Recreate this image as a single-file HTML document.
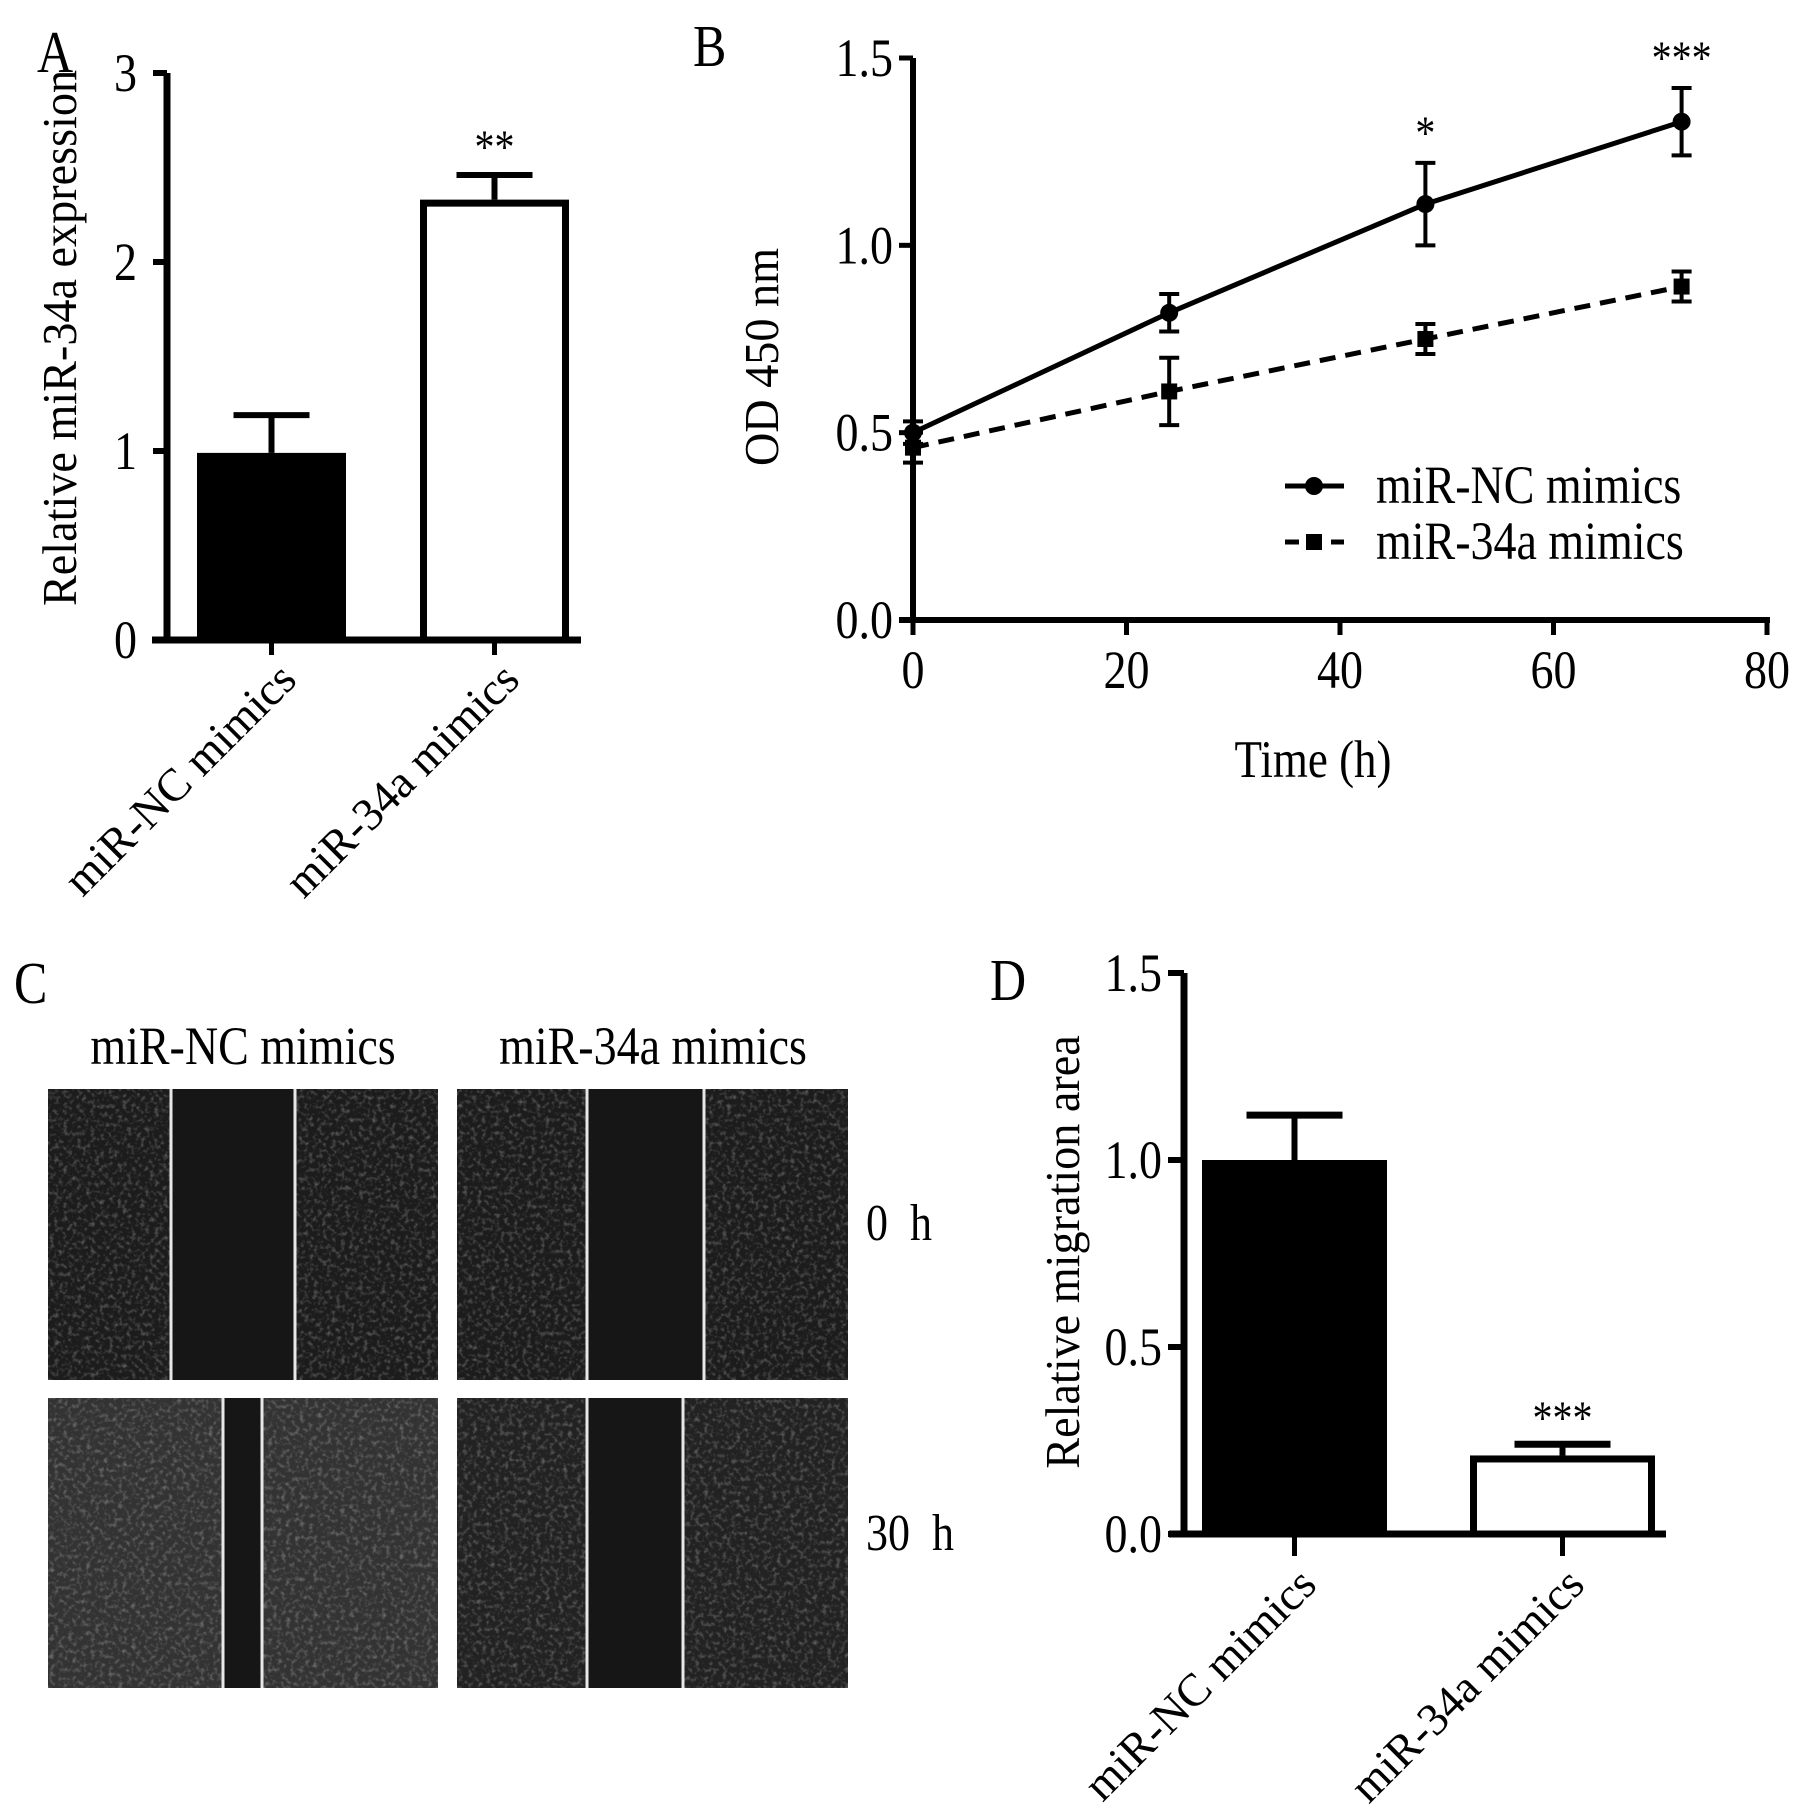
<!DOCTYPE html>
<html><head><meta charset="utf-8"><style>
html,body{margin:0;padding:0;background:#fff;}
svg{display:block;font-family:"Liberation Serif","Times New Roman",serif;}
text{white-space:pre;}
</style></head><body>
<svg id="fig" width="1795" height="1819" viewBox="0 0 1795 1819" xmlns="http://www.w3.org/2000/svg">
<defs>
<filter id="cells" x="0" y="0" width="100%" height="100%">
<feTurbulence type="fractalNoise" baseFrequency="0.22" numOctaves="2" seed="3" result="n"/>
<feColorMatrix type="matrix" values="0 0 0 0 1  0 0 0 0 1  0 0 0 0 1  0 0 0 2.2 -1.05"/>
</filter>
</defs>
<g id="panelA"></g>
<g id="panelB"></g>
<g id="panelC"></g>
<g id="panelD"></g>
</svg>
<script>
// ---- Panel A data ----
const aCategories = ["miR-NC mimics", "miR-34a mimics"];
const aValues = [0.99, 2.33];
const aErrors = [0.20, 0.13];
const aTicks = [0, 1, 2, 3];
const aSig = ["", "**"];
// ---- Panel B data ----
const bTimes = [0, 24, 48, 72];
const bNC = [0.50, 0.82, 1.11, 1.33];
const bNCerr = [0.03, 0.05, 0.11, 0.09];
const b34 = [0.46, 0.61, 0.75, 0.89];
const b34err = [0.04, 0.09, 0.04, 0.04];
const bXTicks = [0, 20, 40, 60, 80];
const bYTicks = ["0.0", "0.5", "1.0", "1.5"];
const bSig = ["", "", "*", "***"];
// ---- Panel D data ----
const dCategories = ["miR-NC mimics", "miR-34a mimics"];
const dValues = [1.00, 0.21];
const dErrors = [0.12, 0.03];
const dTicks = ["0.0", "0.5", "1.0", "1.5"];
const dSig = ["", "***"];

const NS = "http://www.w3.org/2000/svg";
const SY = 1.18;
const SV = 1.05;
function mk(parent, tag, attrs, txt) {
  const e = document.createElementNS(NS, tag);
  for (const k in attrs) e.setAttribute(k, attrs[k]);
  if (txt !== undefined) e.textContent = txt;
  parent.appendChild(e);
  return e;
}
function htext(parent, x, y, size, anchor, str) {
  return mk(parent, 'text', { x: 0, y: 0, 'font-size': size, 'text-anchor': anchor, transform: `translate(${x},${y}) scale(1,${SY})` }, str);
}
function vtext(parent, x, y, size, str) {
  return mk(parent, 'text', { x: 0, y: 0, 'font-size': size, 'text-anchor': 'middle', transform: `translate(${x},${y}) rotate(-90) scale(${SV},1.1)` }, str);
}

// ================= Panel A =================
(function () {
  const g = document.getElementById('panelA');
  const x0 = 167, y0 = 640, yTop = 73, xEnd = 581;
  const ys = v => y0 - (v / 3) * (y0 - yTop);
  const barL = [197, 420], barW = 149;
  let t = htext(g, 37, 72, 50, 'start', 'A');
   
  t = vtext(g, 76, 338, 44, 'Relative miR-34a expression');
   
  aCategories.forEach((c, i) => {
    const cx = barL[i] + barW / 2;
    const ey = ys(aValues[i] + aErrors[i]);
    let l = mk(g, 'line', { x1: cx, x2: cx, y1: ys(aValues[i]), y2: ey, stroke: '#000', 'stroke-width': 6 });
     
    l = mk(g, 'line', { x1: cx - 38, x2: cx + 38, y1: ey, y2: ey, stroke: '#000', 'stroke-width': 6 });
     
    const r = mk(g, 'rect', { x: barL[i] + 3.5, y: ys(aValues[i]) + 3.5, width: barW - 7, height: y0 - ys(aValues[i]) - 3.5, fill: i === 0 ? '#000' : '#fff', stroke: '#000', 'stroke-width': 7 });
     
    if (aSig[i]) {
      const s = htext(g, cx, ey - 12, 40, 'middle', aSig[i]);
       
    }
    const tick = mk(g, 'line', { x1: cx, x2: cx, y1: y0, y2: y0 + 15, stroke: '#000', 'stroke-width': 5 });
     
    const lab = mk(g, 'text', { x: 0, y: 0, 'font-size': 46, 'text-anchor': 'end', transform: `translate(${cx + 27},${y0 + 42}) rotate(-45)` }, c);
     
  });
  let ax = mk(g, 'line', { x1: x0, x2: x0, y1: yTop, y2: y0 + 3, stroke: '#000', 'stroke-width': 7 });
   
  ax = mk(g, 'line', { x1: x0 - 15, x2: xEnd, y1: y0, y2: y0, stroke: '#000', 'stroke-width': 7 });
   
  aTicks.forEach(v => {
    const y = ys(v);
    const tk = mk(g, 'line', { x1: x0 - 14, x2: x0, y1: y, y2: y, stroke: '#000', 'stroke-width': 6 });
     
    const tl = htext(g, x0 - 30, y + 18, 46, 'end', String(v));
     
  });
})();

// ================= Panel B =================
(function () {
  const g = document.getElementById('panelB');
  const x0 = 913, y0 = 620, yTop = 58, x80 = 1767;
  const xs = v => x0 + (v / 80) * (x80 - x0);
  const ys = v => y0 - (v / 1.5) * (y0 - yTop);
  let t = htext(g, 693, 66, 50, 'start', 'B');
   
  t = vtext(g, 778, 357, 44, 'OD 450 nm');
   
  t = htext(g, 1313, 777, 45, 'middle', 'Time (h)');
   
  let ax = mk(g, 'line', { x1: x0, x2: x0, y1: yTop, y2: y0 + 3, stroke: '#000', 'stroke-width': 6 });
   
  ax = mk(g, 'line', { x1: x0 - 14, x2: x80 + 3, y1: y0, y2: y0, stroke: '#000', 'stroke-width': 6 });
   
  bYTicks.forEach(s => {
    const y = ys(parseFloat(s));
    const tk = mk(g, 'line', { x1: x0 - 14, x2: x0, y1: y, y2: y, stroke: '#000', 'stroke-width': 5 });
     
    const tl = htext(g, x0 - 20, y + 18, 46, 'end', s);
     
  });
  bXTicks.forEach(v => {
    const x = xs(v);
    const tk = mk(g, 'line', { x1: x, x2: x, y1: y0, y2: y0 + 15, stroke: '#000', 'stroke-width': 5 });
     
    const tl = htext(g, x, y0 + 68, 46, 'middle', String(v));
     
  });
  function series(vals, errs, dashed, sq, name) {
    const pts = bTimes.map((tt, i) => xs(tt) + ',' + ys(vals[i])).join(' ');
    const pl = mk(g, 'polyline', { points: pts, fill: 'none', stroke: '#000', 'stroke-width': 5, 'stroke-dasharray': dashed ? '16 10' : 'none' });
     
    bTimes.forEach((tt, i) => {
      const x = xs(tt), y1 = ys(vals[i] + errs[i]), y2 = ys(vals[i] - errs[i]);
      const e = mk(g, 'path', { d: `M${x},${y1}V${y2}M${x - 10},${y1}H${x + 10}M${x - 10},${y2}H${x + 10}`, stroke: '#000', 'stroke-width': 4, fill: 'none' });
       
      let m;
      if (sq) m = mk(g, 'rect', { x: x - 8, y: ys(vals[i]) - 8, width: 16, height: 16, fill: '#000' });
      else m = mk(g, 'circle', { cx: x, cy: ys(vals[i]), r: 9, fill: '#000' });
       
    });
  }
  series(bNC, bNCerr, false, false, 'nc');
  series(b34, b34err, true, true, 'mir34a');
  bTimes.forEach((tt, i) => {
    if (!bSig[i]) return;
    const s = htext(g, xs(tt), ys(bNC[i] + bNCerr[i]) - 14, 40, 'middle', bSig[i]);
     
  });
  const lg = mk(g, 'g', {});
   
  let l = mk(lg, 'line', { x1: 1285, x2: 1344, y1: 486, y2: 486, stroke: '#000', 'stroke-width': 5 });
   
  l = mk(lg, 'circle', { cx: 1314, cy: 486, r: 9, fill: '#000' });
   
  l = htext(lg, 1376, 503, 46, 'start', 'miR-NC mimics');
   
  l = mk(lg, 'line', { x1: 1285, x2: 1344, y1: 542, y2: 542, stroke: '#000', 'stroke-width': 5, 'stroke-dasharray': '14 9' });
   
  l = mk(lg, 'rect', { x: 1306, y: 534, width: 16, height: 16, fill: '#000' });
   
  l = htext(lg, 1376, 559, 46, 'start', 'miR-34a mimics');
   
})();

// ================= Panel C =================
(function () {
  const g = document.getElementById('panelC');
  let t = htext(g, 14, 1003, 50, 'start', 'C');
   
  t = htext(g, 243, 1064, 46, 'middle', 'miR-NC mimics');
   
  t = htext(g, 653, 1064, 46, 'middle', 'miR-34a mimics');
   
  t = htext(g, 866, 1240, 44, 'start', '0  h');
   
  t = htext(g, 866, 1550, 44, 'start', '30  h');
   
  const imgs = [
    { x: 48, y: 1089, w: 390, h: 291, l1: 171, l2: 295, bg: '#1c1c1c', name: 'image-nc-0h' },
    { x: 457, y: 1089, w: 391, h: 291, l1: 587, l2: 704, bg: '#1c1c1c', name: 'image-34a-0h' },
    { x: 48, y: 1398, w: 390, h: 290, l1: 223, l2: 262, bg: '#333333', name: 'image-nc-30h' },
    { x: 457, y: 1398, w: 391, h: 290, l1: 587, l2: 683, bg: '#222222', name: 'image-34a-30h' }
  ];
  imgs.forEach(im => {
    const gg = mk(g, 'g', {});
     
    mk(gg, 'rect', { x: im.x, y: im.y, width: im.w, height: im.h, fill: im.bg });
    mk(gg, 'rect', { x: im.x, y: im.y, width: im.w, height: im.h, fill: '#fff', filter: 'url(#cells)', opacity: 0.3 });
    mk(gg, 'rect', { x: im.l1, y: im.y, width: im.l2 - im.l1, height: im.h, fill: '#161616' });
    mk(gg, 'line', { x1: im.l1, x2: im.l1, y1: im.y, y2: im.y + im.h, stroke: '#e8e8e8', 'stroke-width': 3 });
    mk(gg, 'line', { x1: im.l2, x2: im.l2, y1: im.y, y2: im.y + im.h, stroke: '#e8e8e8', 'stroke-width': 3 });
  });
})();

// ================= Panel D =================
(function () {
  const g = document.getElementById('panelD');
  const x0 = 1184, y0 = 1534, yTop = 973, xEnd = 1666;
  const ys = v => y0 - (v / 1.5) * (y0 - yTop);
  const barL = [1202, 1470], barW = 185;
  let t = htext(g, 990, 1000, 50, 'start', 'D');
   
  t = vtext(g, 1079, 1252, 44, 'Relative migration area');
   
  dCategories.forEach((c, i) => {
    const cx = barL[i] + barW / 2;
    const ey = ys(dValues[i] + dErrors[i]);
    let l = mk(g, 'line', { x1: cx, x2: cx, y1: ys(dValues[i]), y2: ey, stroke: '#000', 'stroke-width': 6 });
     
    l = mk(g, 'line', { x1: cx - 48, x2: cx + 48, y1: ey, y2: ey, stroke: '#000', 'stroke-width': 7 });
     
    const r = mk(g, 'rect', { x: barL[i] + 3.5, y: ys(dValues[i]) + 3.5, width: barW - 7, height: y0 - ys(dValues[i]) - 3.5, fill: i === 0 ? '#000' : '#fff', stroke: '#000', 'stroke-width': 7 });
     
    if (dSig[i]) {
      const s = htext(g, cx, ey - 10, 40, 'middle', dSig[i]);
       
    }
    const tick = mk(g, 'line', { x1: cx, x2: cx, y1: y0, y2: y0 + 22, stroke: '#000', 'stroke-width': 5 });
     
    const lab = mk(g, 'text', { x: 0, y: 0, 'font-size': 46, 'text-anchor': 'end', transform: `translate(${cx + 24},${y0 + 53}) rotate(-45)` }, c);
     
  });
  let ax = mk(g, 'line', { x1: x0, x2: x0, y1: yTop, y2: y0 + 3, stroke: '#000', 'stroke-width': 7 });
   
  ax = mk(g, 'line', { x1: x0 - 15, x2: xEnd, y1: y0, y2: y0, stroke: '#000', 'stroke-width': 7 });
   
  dTicks.forEach(s => {
    const y = ys(parseFloat(s));
    const tk = mk(g, 'line', { x1: x0 - 16, x2: x0, y1: y, y2: y, stroke: '#000', 'stroke-width': 6 });
     
    const tl = htext(g, x0 - 22, y + 18, 46, 'end', s);
     
  });
})();
</script>
</body></html>
